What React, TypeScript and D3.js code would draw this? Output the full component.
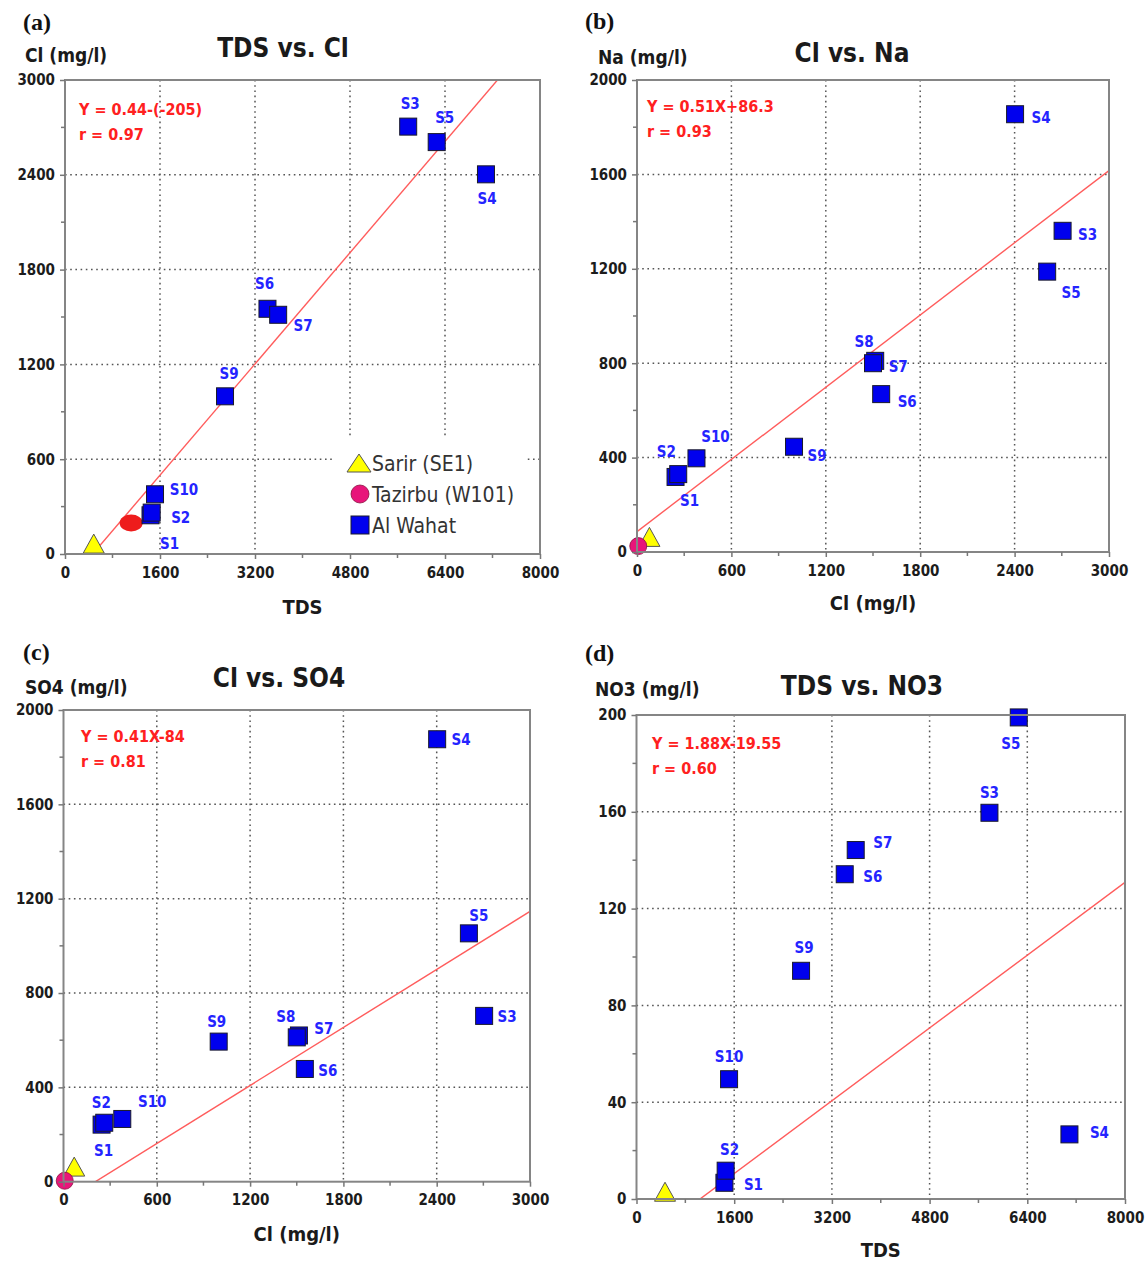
import * as d3 from "d3";
import React, { useEffect, useRef } from "react";

// Al Wahat samples
const sampleIds = ["S1", "S2", "S3", "S4", "S5", "S6", "S7", "S8", "S9", "S10"];
const tds = [1440, 1460, 5780, 7090, 6260, 3410, 3590, NaN, 2695, 1516];
const cl = [245, 262, 2705, 2403, 2607, 1552, 1514, 1500, 998, 378];
const na = [318, 330, 1361, 1855, 1188, 669, 810, 800, 446, 397];
const so4 = [242, 250, 703, 1876, 1053, 478, 620, 612, 594, 266];
const no3 = [6.7, 11.7, 159.6, 26.7, 199, 134.2, 144.2, NaN, 94.3, 49.5];

// reference wells: Sarir (SE1), Tazirbu (W101) - as plotted in each panel
const refNames = ["Sarir (SE1)", "Tazirbu (W101)", "Al Wahat"];
const refTdsA = [484, 1114];
const refClA = [66, 196];
const refClB = [79, 8];
const refNaB = [64, 25];
const refClC = [69, 8];
const refSo4C = [64, 4];
const refTdsD = [467, NaN];
const refNo3D = [3, NaN];

// tick values
const tdsTicks = [0, 1600, 3200, 4800, 6400, 8000];
const clTicks = [0, 600, 1200, 1800, 2400, 3000];
const naTicks = [0, 400, 800, 1200, 1600, 2000];
const so4Ticks = [0, 400, 800, 1200, 1600, 2000];
const no3Ticks = [0, 40, 80, 120, 160, 200];

// regression lines
const fitSlope = [0.44, 0.51, 0.41, 0.0188];
const fitIntercept = [-205, 86.3, -84, -19.55];
const fitText = ["Y = 0.44-(-205)", "Y = 0.51X+86.3", "Y = 0.41X-84", "Y = 1.88X-19.55"];
const fitR = ["r = 0.97", "r = 0.93", "r = 0.81", "r = 0.60"];

const FONT = "'DejaVu Sans Condensed', 'DejaVu Sans', Verdana, sans-serif";
const BLUE = "#0000ee";
const LABEL_BLUE = "#2424ff";

type Box = { l: number; r: number; t: number; b: number };
type PanelCfg = {
  letter: string;
  title: string;
  xTitle: string;
  yTitle: string;
  box: Box;
  xTicks: number[];
  yTicks: number[];
  xs: number[];
  ys: number[];
  refX: number[];
  refY: number[];
  fit: number;
  offsets: Record<string, [number, number]>;
  letterPos: [number, number];
  titlePos: [number, number];
  yTitlePos: [number, number];
  xTitleY: number;
  eqPos: [number, number];
  legend?: boolean;
};

const panels: PanelCfg[] = [
  {
    letter: "(a)", title: "TDS vs. Cl", xTitle: "TDS", yTitle: "Cl (mg/l)",
    box: { l: 65, r: 540, t: 80, b: 554 },
    xTicks: tdsTicks, yTicks: clTicks, xs: tds, ys: cl, refX: refTdsA, refY: refClA, fit: 0,
    offsets: { S1: [19, 28], S2: [29, 5], S3: [2, -23], S4: [1, 24], S5: [8, -24], S6: [-3, -25], S7: [25, 11], S9: [4, -23], S10: [29, -5] },
    letterPos: [23, 22], titlePos: [283, 47], yTitlePos: [25, 55], xTitleY: 606, eqPos: [79, 109], legend: true,
  },
  {
    letter: "(b)", title: "Cl vs. Na", xTitle: "Cl (mg/l)", yTitle: "Na (mg/l)",
    box: { l: 637, r: 1109, t: 80, b: 552 },
    xTicks: clTicks, yTicks: naTicks, xs: cl, ys: na, refX: refClB, refY: refNaB, fit: 1,
    offsets: { S1: [14, 24], S2: [-12, -23], S3: [25, 4], S4: [26, 3], S5: [24, 21], S6: [26, 7], S7: [23, 6], S8: [-9, -22], S9: [23, 9], S10: [19, -22] },
    letterPos: [585, 21], titlePos: [852, 52], yTitlePos: [598, 57], xTitleY: 602, eqPos: [647, 106],
  },
  {
    letter: "(c)", title: "Cl vs. SO4", xTitle: "Cl (mg/l)", yTitle: "SO4 (mg/l)",
    box: { l: 63.5, r: 530, t: 710, b: 1181.7 },
    xTicks: clTicks, yTicks: so4Ticks, xs: cl, ys: so4, refX: refClC, refY: refSo4C, fit: 2,
    offsets: { S1: [2, 26], S2: [-3, -20], S3: [23, 1], S4: [24, 0], S5: [10, -18], S6: [23, 2], S7: [25, -7], S8: [-11, -21], S9: [-2, -20], S10: [30, -17] },
    letterPos: [23, 652], titlePos: [279, 677], yTitlePos: [25, 687], xTitleY: 1233, eqPos: [81, 736],
  },
  {
    letter: "(d)", title: "TDS vs. NO3", xTitle: "TDS", yTitle: "NO3 (mg/l)",
    box: { l: 636.5, r: 1125, t: 715, b: 1199 },
    xTicks: tdsTicks, yTicks: no3Ticks, xs: tds, ys: no3, refX: refTdsD, refY: refNo3D, fit: 3,
    offsets: { S1: [29, 2], S2: [4, -21], S3: [0, -20], S4: [30, -2], S5: [-8, 26], S6: [28, 2], S7: [27, -7], S9: [3, -23], S10: [0, -23] },
    letterPos: [585, 653], titlePos: [862, 685], yTitlePos: [595, 689], xTitleY: 1249, eqPos: [652, 743],
  },
];

function triPath(cx: number, cy: number, w = 21, h = 19) {
  return `M${cx},${cy - h / 2}L${cx + w / 2},${cy + h / 2}L${cx - w / 2},${cy + h / 2}Z`;
}

function Panel({ p }: { p: PanelCfg }) {
  const xRef = useRef<SVGGElement>(null);
  const yRef = useRef<SVGGElement>(null);
  const { box } = p;
  const x = d3.scaleLinear().domain([p.xTicks[0], p.xTicks[p.xTicks.length - 1]]).range([box.l, box.r]);
  const y = d3.scaleLinear().domain([p.yTicks[0], p.yTicks[p.yTicks.length - 1]]).range([box.b, box.t]);

  useEffect(() => {
    const gx = d3.select(xRef.current!);
    gx.call(d3.axisBottom(x).tickValues(p.xTicks).tickSize(5).tickPadding(8).tickFormat(d3.format("d")) as any);
    const gy = d3.select(yRef.current!);
    gy.call(d3.axisLeft(y).tickValues(p.yTicks).tickSize(5).tickPadding(5).tickFormat(d3.format("d")) as any);
    [gx, gy].forEach((g) => {
      g.select(".domain").remove();
      g.attr("font-family", null).attr("font-size", null);
      g.selectAll("line").attr("stroke", "#777").attr("stroke-width", 1.5);
      g.selectAll("text")
        .attr("font-family", FONT)
        .attr("font-size", 15)
        .attr("font-weight", "bold")
        .attr("fill", "#1c1c1c");
    });
  }, []);

  const xMinor = d3.pairs(p.xTicks).map(([a, b]) => (a + b) / 2);
  const yMinor = d3.pairs(p.yTicks).map(([a, b]) => (a + b) / 2);
  const xd = x.domain();
  const m = fitSlope[p.fit];
  const c = fitIntercept[p.fit];
  const fitLine = d3.line<number>().x((v) => x(v)).y((v) => y(m * v + c))([xd[0], xd[1]]) || "";
  const clipId = "clip" + p.letter.replace(/\W/g, "");

  return (
    <g>
      <clipPath id={clipId}>
        <rect x={box.l} y={box.t} width={box.r - box.l} height={box.b - box.t} />
      </clipPath>
      <text x={p.letterPos[0]} y={p.letterPos[1] + 8} fontFamily="'Liberation Serif', 'Times New Roman', serif" fontWeight="bold" fontSize={24} fill="#111">{p.letter}</text>
      <text x={p.titlePos[0]} y={p.titlePos[1] + 9.5} textAnchor="middle" fontFamily={FONT} fontWeight="bold" fontSize={26} fill="#1a1a1a">{p.title}</text>
      <text x={p.yTitlePos[0]} y={p.yTitlePos[1] + 7} fontFamily={FONT} fontWeight="bold" fontSize={19} fill="#1a1a1a">{p.yTitle}</text>
      <text x={(box.l + box.r) / 2} y={p.xTitleY + 7.5} textAnchor="middle" fontFamily={FONT} fontWeight="bold" fontSize={20} fill="#1a1a1a">{p.xTitle}</text>

      {/* grid */}
      <g stroke="#555" strokeWidth={1.5} strokeDasharray="1.6 3.6">
        {p.xTicks.slice(1, -1).map((t) => (
          <line key={"gx" + t} x1={x(t)} x2={x(t)} y1={box.t} y2={box.b} />
        ))}
        {p.yTicks.slice(1, -1).map((t) => (
          <line key={"gy" + t} x1={box.l} x2={box.r} y1={y(t)} y2={y(t)} />
        ))}
      </g>

      {p.legend && <rect x={333} y={436} width={194} height={117} fill="#fff" />}

      <path d={fitLine} clipPath={`url(#${clipId})`} fill="none" stroke="#ff5c5c" strokeWidth={1.4} />

      {/* reference wells */}
      {p.refX[0] === p.refX[0] && (
        <path d={triPath(x(p.refX[0]), y(p.refY[0]))} fill="#ffff00" stroke="#555" strokeWidth={1} />
      )}
      {p.refX[1] === p.refX[1] &&
        (p.legend ? (
          <ellipse cx={x(p.refX[1])} cy={y(p.refY[1])} rx={11.5} ry={8.5} fill="#ee1c1c" />
        ) : (
          <circle cx={x(p.refX[1])} cy={y(p.refY[1])} r={8.5} fill="#e8157a" stroke="#8a1040" strokeWidth={0.8} />
        ))}

      {/* samples */}
      {sampleIds.map((id, i) => {
        const vx = p.xs[i];
        const vy = p.ys[i];
        if (!(vx === vx && vy === vy)) return null;
        return (
          <rect key={id} x={x(vx) - 8.5} y={y(vy) - 8.5} width={17} height={17} fill={BLUE} stroke="#1a1a2a" strokeWidth={1} />
        );
      })}
      {sampleIds.map((id, i) => {
        const vx = p.xs[i];
        const vy = p.ys[i];
        const off = p.offsets[id];
        if (!off || !(vx === vx && vy === vy)) return null;
        return (
          <text key={"l" + id} x={x(vx) + off[0]} y={y(vy) + off[1]} dy="0.36em" textAnchor="middle" fontFamily={FONT} fontWeight="bold" fontSize={15} fill={LABEL_BLUE}>
            {id}
          </text>
        );
      })}

      <text x={p.eqPos[0]} y={p.eqPos[1] + 6} fontFamily={FONT} fontWeight="bold" fontSize={16} fill="#ff2020">{fitText[p.fit]}</text>
      <text x={p.eqPos[0]} y={p.eqPos[1] + 31} fontFamily={FONT} fontWeight="bold" fontSize={16} fill="#ff2020">{fitR[p.fit]}</text>

      {/* frame */}
      <rect x={box.l} y={box.t} width={box.r - box.l} height={box.b - box.t} fill="none" stroke="#858585" strokeWidth={2} />

      {/* minor ticks */}
      <g stroke="#777" strokeWidth={1.5}>
        {xMinor.map((t) => (
          <line key={"mx" + t} x1={x(t)} x2={x(t)} y1={box.b} y2={box.b + 4} />
        ))}
        {yMinor.map((t) => (
          <line key={"my" + t} x1={box.l - 4} x2={box.l} y1={y(t)} y2={y(t)} />
        ))}
      </g>
      <g ref={xRef} transform={`translate(0,${box.b})`} />
      <g ref={yRef} transform={`translate(${box.l},0)`} />

      {p.legend && (
        <g fontFamily={FONT} fontSize={21} fill="#333">
          <path d={triPath(359, 463, 24, 18)} fill="#ffff00" stroke="#555" strokeWidth={1} />
          <circle cx={360} cy={494} r={9} fill="#e8157a" stroke="#8a1040" strokeWidth={0.8} />
          <rect x={351} y={516} width={18} height={18} fill={BLUE} stroke="#1a1a2a" strokeWidth={1} />
          {refNames.map((n, i) => (
            <text key={n} x={372} y={463 + i * 31 + 7.5}>{n}</text>
          ))}
        </g>
      )}
    </g>
  );
}

export default function App() {
  return (
    <svg width={1148} height={1262} style={{ position: "absolute", left: 0, top: 0, background: "#fff" }}>
      <rect width={1148} height={1262} fill="#fff" />
      {panels.map((p) => (
        <Panel key={p.letter} p={p} />
      ))}
    </svg>
  );
}
